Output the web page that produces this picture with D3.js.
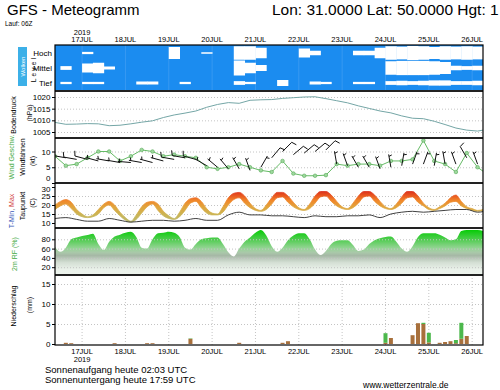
<!DOCTYPE html>
<html>
<head>
<meta charset="utf-8">
<script src="https://cdn.jsdelivr.net/npm/d3@7/dist/d3.min.js"></script>
<style>
  body { margin: 0; background: #fff; }
  svg { display: block; font-family: "Liberation Sans", Arial, sans-serif; }
</style>
</head>
<body>
<svg id="chart" width="500" height="390"></svg>
<script>
// GFS run 06Z 16.07.2019, first step +3h, last step +240h
var run_start = Date.UTC(2019, 6, 16, 9);
var run_end   = Date.UTC(2019, 6, 26, 6);

var day_labels = ['17JUL', '18JUL', '19JUL', '20JUL', '21JUL', '22JUL', '23JUL', '24JUL', '25JUL', '26JUL'];

// 6-hourly series (16JUL 09Z .. 26JUL 09Z)
var cloud_high = [0, 0, 0, 15, 0, 0, 0, 0, 0, 0, 0, 80, 0, 0, 10, 0, 0, 90, 90, 70, 0, 0, 0, 60, 30, 0, 0, 0, 30, 30, 70, 90, 85, 95, 90, 80, 90, 85, 90, 85, 80];
var cloud_mid  = [0, 25, 0, 60, 70, 20, 0, 0, 0, 0, 0, 0, 0, 0, 0, 0, 0, 100, 70, 40, 0, 0, 0, 0, 0, 0, 0, 0, 0, 0, 0, 90, 95, 95, 95, 90, 80, 30, 25, 30, 30];
var cloud_low  = [0, 15, 0, 15, 15, 0, 0, 0, 20, 20, 0, 0, 15, 0, 0, 0, 0, 25, 15, 0, 0, 40, 0, 0, 20, 15, 0, 0, 15, 15, 0, 25, 30, 25, 30, 35, 35, 25, 25, 30, 30];

var pressure = [1009.1, 1008.3, 1008.4, 1008.6, 1008.5, 1007.7, 1007.9, 1008.5, 1009.2, 1009.8,
                1011.2, 1012.3, 1013.1, 1014.0, 1015.6, 1016.8, 1017.6, 1017.3, 1018.6, 1018.8,
                1018.9, 1019.4, 1019.7, 1020.0, 1020.1, 1019.3, 1018.4, 1017.5, 1016.2, 1015.1,
                1014.0, 1013.2, 1011.9, 1010.9, 1010.7, 1009.6, 1008.2, 1006.7, 1005.8, 1005.4,
                1006.2];

var wind_speed = [8.5, 5.5, 6, 8, 10, 10, 7, 8.5, 10.5, 10,
                  8.5, 9, 8.5, 8, 5, 4.5, 5, 6, 5, 4,
                  3.5, 7, 3, 2.3, 2.3, 2.5, 6, 5.5, 6, 6,
                  5.5, 7, 7, 7.5, 13.5, 7, 6, 3.5, 9.5, 5,
                  2.5];

var barb_speed = [9, 8, 7.5, 7.5, 7, 7, 6.5, 6.5, 6.5, 6.5,
                  7, 7.5, 8, 7.5, 5.5, 5, 4.5, 4.5, 4, 5,
                  8, 10, 9, 9.5, 10, 10.5, 6, 5.5, 5, 5,
                  4.5, 5, 5.5, 6, 6, 5.5, 6, 6, 8, 6,
                  5];
var barb_dir   = [275, 280, 280, 285, 285, 280, 280, 275, 280, 285,
                  285, 280, 280, 285, 300, 310, 320, 330, 340, 30,
                  40, 45, 50, 50, 50, 45, 350, 340, 330, 330,
                  340, 350, 10, 20, 20, 10, 350, 340, 330, 340,
                  350];

var dew_point = [12.5, 13, 12, 11, 11, 12.5, 11.5, 10.5, 11, 11.5,
                 11.5, 11, 11.5, 12.5, 11.5, 11.5, 14.5, 16, 14.5, 14.5,
                 14, 14, 13.5, 13, 14, 13.5, 13.5, 14, 14, 14.5,
                 13, 15, 16, 16.5, 16, 16.5, 17, 17.5, 17.5, 16,
                 17];

// 3-hourly series (16JUL 09Z .. 26JUL 09Z)
var t_max = [20, 22, 23, 21.5, 17.5, 15, 13.5, 14.5, 17.5, 20.5, 22, 20, 16, 13, 11, 14.5, 19, 21.5, 22, 20.5,
             16.5, 14, 12.5, 16, 21, 23.5, 24, 22, 18, 15.5, 15, 19, 24, 26.5, 27, 25, 21, 18, 17, 20,
             24, 27, 27, 25, 21.5, 18.5, 17.5, 20.5, 25, 27.5, 27.5, 25.5, 22, 19, 18, 21, 25, 27.5, 27.5, 25.5,
             22, 19, 18, 20.5, 24.5, 27.5, 27.5, 25, 21, 18.5, 17.5, 19, 21, 24, 25.5, 22, 19, 18, 17, 17.5,
             19];
var t_min = [17.5, 19.5, 20.5, 18, 15, 13.5, 13, 13.5, 15, 18.5, 20, 17, 14, 11.5, 10.5, 12, 15.5, 19, 20.5, 17,
             14, 12.5, 12, 13.5, 17, 21, 22, 18.5, 15.5, 14.5, 14.5, 16, 20, 23, 24, 21, 18.5, 17, 16.5, 17.5,
             20.5, 24, 24.5, 21.5, 19, 17.5, 17, 18, 21, 24.5, 25, 22, 19.5, 18, 17.5, 18.5, 21, 24.5, 25, 22,
             19.5, 18, 17.5, 18.5, 21, 24, 24.5, 21.5, 19.5, 17.5, 17, 18, 19.5, 21.5, 22, 19.5, 18, 17, 16.5, 17,
             18];
var humidity = [64, 53, 62, 80, 84, 87, 89, 92, 70, 57, 75, 86, 90, 94, 96, 85, 62, 60, 80, 93,
                94, 96, 94, 85, 62, 58, 70, 80, 82, 84, 84, 70, 52, 43, 60, 75, 84, 94, 100, 88,
                65, 53, 62, 78, 88, 93, 93, 80, 58, 46, 55, 70, 77, 78, 78, 68, 55, 58, 70, 78,
                82, 85, 86, 75, 60, 53, 65, 85, 93, 93, 93, 90, 84, 78, 80, 98, 100, 100, 100, 98,
                95];

// 3h precipitation sums, hours after run start
var rain_hour  = [6, 9, 33, 51, 54, 75, 102, 126, 129, 183, 186, 198, 201, 204, 207, 213, 216, 219, 222, 225, 228];
var rain_large = [0.3, 0.2, 0.2, 0.2, 0.2, 1.3, 0.3, 0.3, 0.7, 0.3, 1.5, 2.2, 5.2, 5.0, 0.4, 0.3, 0.5, 0.7, 0.2, 1.3, 2.0];
var rain_conv  = [0, 0, 0, 0, 0, 0.1, 0, 0, 0, 2.4, 0, 0, 0, 0.3, 2.4, 0, 0, 0, 0.8, 4.0, 0];

var svg   = d3.select('#chart');
var defs  = svg.append('defs');
var left  = 55;
var right = 483;

var panels = {
  cloud:    [45, 91],
  pressure: [91, 138],
  wind:     [138, 183],
  temp:     [183, 228],
  hum:      [228, 275],
  rain:     [275, 345]
};

var x = d3.scaleTime()
  .domain([run_start, run_end])
  .range([left, right]);

var at = (step) => (d, i) => x(run_start + i * step * 36e5);
var day_dates = day_labels.map((d, i) => new Date(Date.UTC(2019, 6, 17 + i)));

var y_p = d3.scaleLinear().domain([1005, 1020]).range([132, 97]);
var y_w = d3.scaleLinear().domain([0, 10]).range([183, 151.5]);
var y_t = d3.scaleLinear().domain([10, 30]).range([223, 187]);
var y_h = d3.scaleLinear().domain([0, 100]).range([276.5, 230]);
var y_r = d3.scaleLinear().domain([0, 15]).range([344, 284]);

var panel_group = (name, fill) => {
  var p = panels[name];
  defs.append('clipPath')
    .attr('id', `clip-${name}`)
    .append('rect')
    .attr('x', left).attr('y', p[0])
    .attr('width', right - left).attr('height', p[1] - p[0]);
  var g = svg.append('g').attr('clip-path', `url(#clip-${name})`);
  g.append('rect')
    .attr('x', left).attr('y', p[0])
    .attr('width', right - left).attr('height', p[1] - p[0])
    .attr('fill', fill || '#fff');
  return g;
};

var grid = (g, y, ticks) => {
  g.append('g')
    .attr('transform', `translate(${left},0)`)
    .call(d3.axisLeft(y).tickValues(ticks).tickSize(-(right - left)).tickFormat(''))
    .call((a) => a.select('.domain').remove())
    .selectAll('line')
    .attr('stroke', '#c4c4c4')
    .attr('stroke-dasharray', '1,2');
};

var y_axis = (y, ticks, dy) => {
  svg.append('g')
    .attr('transform', `translate(${left},0)`)
    .call(d3.axisLeft(y).tickValues(ticks).tickSize(3).tickPadding(1.5).tickFormat(d3.format('d')))
    .call((a) => a.select('.domain').remove())
    .attr('font-family', null)
    .attr('font-size', 8)
    .selectAll('text')
    .attr('dy', dy || '0.32em');
};

// ---- clouds
var g_cloud = panel_group('cloud', '#1b8cf0');
var cloud_y = d3.scalePoint().domain(['Hoch', 'Mittel', 'Tief']).range([53, 83]);
var cell = x(run_start + 6 * 36e5) - x(run_start);

g_cloud.selectAll('line.day')
  .data(day_dates)
  .enter()
  .append('line')
  .attr('x1', (d) => x(d)).attr('x2', (d) => x(d))
  .attr('y1', panels.cloud[0]).attr('y2', panels.cloud[1])
  .attr('stroke', '#3f9df3')
  .attr('stroke-width', 0.8);

[['Hoch', cloud_high], ['Mittel', cloud_mid], ['Tief', cloud_low]].forEach((lv) => {
  g_cloud.selectAll(`rect.c-${lv[0]}`)
    .data(lv[1])
    .enter()
    .append('rect')
    .attr('x', (d, i) => at(6)(d, i) - cell / 2)
    .attr('width', (d) => d > 0 ? cell + 0.4 : 0)
    .attr('y', (d) => cloud_y(lv[0]) - d / 100 * 7.5)
    .attr('height', (d) => d / 100 * 15)
    .attr('fill', '#fff');
});

// ---- pressure
var g_p = panel_group('pressure');
grid(g_p, y_p, [1005, 1010, 1015, 1020]);
g_p.append('path')
  .datum(pressure)
  .attr('d', d3.line().x(at(6)).y((d) => y_p(d)))
  .attr('fill', 'none')
  .attr('stroke', '#74a6a6')
  .attr('stroke-width', 1);

// ---- wind
var g_w = panel_group('wind');
grid(g_w, y_w, [5, 10]);

g_w.append('path')
  .datum(wind_speed)
  .attr('d', d3.line().x(at(6)).y((d) => y_w(d)))
  .attr('fill', 'none')
  .attr('stroke', '#66bb66')
  .attr('stroke-width', 1);

g_w.selectAll('circle.ws')
  .data(wind_speed)
  .enter()
  .append('circle')
  .attr('cx', at(6))
  .attr('cy', (d) => y_w(d))
  .attr('r', 1.8)
  .attr('fill', '#9ed89e')
  .attr('stroke', '#55aa55')
  .attr('stroke-width', 0.6);

var barb_path = (cx, cy, dir, kt) => {
  var a = dir * Math.PI / 180;
  var ux = Math.sin(a), uy = -Math.cos(a);
  var px = -uy, py = ux;
  var tx = cx + ux * 13, ty = cy + uy * 13;
  var d = `M${cx},${cy}L${tx},${ty}`;
  var n5 = Math.round(kt / 5);
  var full = Math.floor(n5 / 2);
  var pos = 0;
  for (var i = 0; i < full; i++, pos += 2.5) {
    d += `M${tx - ux * pos},${ty - uy * pos}l${px * 5 + ux * 1.5},${py * 5 + uy * 1.5}`;
  }
  if (n5 % 2) {
    if (full === 0) pos = 2;
    d += `M${tx - ux * pos},${ty - uy * pos}l${px * 3 + ux * 1},${py * 3 + uy * 1}`;
  }
  return d;
};

g_w.selectAll('path.barb')
  .data(barb_speed)
  .enter()
  .append('path')
  .attr('d', (d, i) => barb_path(at(6)(d, i), y_w(d), barb_dir[i], d))
  .attr('fill', 'none')
  .attr('stroke', '#111')
  .attr('stroke-width', 1);

// ---- temperature
var g_t = panel_group('temp');
grid(g_t, y_t, [15, 20, 25]);

var t_stops = [[28, '#d92a1c'], [25.5, '#e8521f'], [22.5, '#f0862a'], [19, '#e2a43c'], [15, '#cdb452'], [11, '#bcb86a']];
var tg = defs.append('linearGradient')
  .attr('id', 'temp-grad')
  .attr('gradientUnits', 'userSpaceOnUse')
  .attr('x1', 0).attr('x2', 0)
  .attr('y1', y_t(28)).attr('y2', y_t(11));
tg.selectAll('stop')
  .data(t_stops)
  .enter()
  .append('stop')
  .attr('offset', (d) => (28 - d[0]) / 17)
  .attr('stop-color', (d) => d[1]);

g_t.append('path')
  .datum(t_max)
  .attr('d', d3.area()
    .curve(d3.curveMonotoneX)
    .x(at(3))
    .y0((d, i) => y_t(t_min[i]))
    .y1((d) => y_t(d)))
  .attr('fill', 'url(#temp-grad)')
  .attr('stroke', 'url(#temp-grad)')
  .attr('stroke-width', 0.8);

g_t.append('path')
  .datum(dew_point)
  .attr('d', d3.line().curve(d3.curveMonotoneX).x(at(6)).y((d) => y_t(d)))
  .attr('fill', 'none')
  .attr('stroke', '#2a2a2a')
  .attr('stroke-width', 0.9);

// ---- humidity
var g_h = panel_group('hum');
var h_stops = [[100, '#06cc06'], [80, '#4ecd4e'], [60, '#98d498'], [52, '#a9c9a9'], [45, '#a6b8a6'], [30, '#d4dfd4'], [15, '#eaf1ea'], [0, '#eef4ee']];
var hg = defs.append('linearGradient')
  .attr('id', 'hum-grad')
  .attr('gradientUnits', 'userSpaceOnUse')
  .attr('x1', 0).attr('x2', 0)
  .attr('y1', y_h(100)).attr('y2', y_h(0));
hg.selectAll('stop')
  .data(h_stops)
  .enter()
  .append('stop')
  .attr('offset', (d) => (100 - d[0]) / 100)
  .attr('stop-color', (d) => d[1]);

g_h.append('path')
  .datum(humidity)
  .attr('d', d3.area()
    .curve(d3.curveMonotoneX)
    .x(at(3))
    .y0(y_h(0))
    .y1((d) => y_h(d)))
  .attr('fill', 'url(#hum-grad)');
grid(g_h, y_h, [20, 40, 60, 80]);

// ---- precipitation
var g_r = panel_group('rain');
grid(g_r, y_r, [5, 10, 15]);
g_r.selectAll('line.day')
  .data(day_dates)
  .enter()
  .append('line')
  .attr('x1', (d) => x(d)).attr('x2', (d) => x(d))
  .attr('y1', panels.rain[0]).attr('y2', panels.rain[1])
  .attr('stroke', '#c4c4c4')
  .attr('stroke-dasharray', '1,2');

var rain_x = (i) => x(run_start + rain_hour[i] * 36e5);

g_r.selectAll('rect.large')
  .data(rain_large)
  .enter()
  .append('rect')
  .attr('x', (d, i) => rain_x(i) - 2)
  .attr('width', 4)
  .attr('y', (d) => y_r(d))
  .attr('height', (d) => y_r(0) - y_r(d))
  .attr('fill', '#a8703c');

g_r.selectAll('rect.conv')
  .data(rain_conv)
  .enter()
  .append('rect')
  .attr('x', (d, i) => rain_x(i) - 2)
  .attr('width', 4)
  .attr('y', (d, i) => y_r(d + rain_large[i]))
  .attr('height', (d) => y_r(0) - y_r(d))
  .attr('fill', '#4cb84c');

// ---- frame
svg.selectAll('line.sep')
  .data(Object.values(panels).slice(1).map((p) => p[0]))
  .enter()
  .append('line')
  .attr('x1', left).attr('x2', right)
  .attr('y1', (d) => d).attr('y2', (d) => d)
  .attr('stroke', '#222')
  .attr('stroke-width', 2);

svg.append('rect')
  .attr('x', left).attr('y', panels.cloud[0])
  .attr('width', right - left)
  .attr('height', panels.rain[1] - panels.cloud[0])
  .attr('fill', 'none')
  .attr('stroke', '#000')
  .attr('stroke-width', 1.2);

// ---- axes
y_axis(y_p, [1005, 1010, 1015, 1020]);
y_axis(y_w, [0, 5, 10], (d) => d === 0 ? '-0.3em' : '0.32em');
y_axis(y_t, [10, 15, 20, 25, 30], (d) => d === 30 ? '0.5em' : '0.32em');
y_axis(y_h, [20, 40, 60, 80]);
y_axis(y_r, [0, 5, 10, 15]);

svg.selectAll('text.lvl')
  .data(cloud_y.domain())
  .enter()
  .append('text')
  .attr('x', 52)
  .attr('y', (d) => cloud_y(d))
  .attr('dy', '0.35em')
  .attr('text-anchor', 'end')
  .attr('font-size', 8)
  .text((d) => d);

var day_axis = (ty, yy) => {
  svg.selectAll(null)
    .data(day_labels)
    .enter()
    .append('text')
    .attr('x', (d, i) => x(day_dates[i]))
    .attr('y', ty)
    .attr('text-anchor', 'middle')
    .attr('font-size', 7.5)
    .text((d) => d);
  svg.append('text')
    .attr('x', x(day_dates[0]))
    .attr('y', yy)
    .attr('text-anchor', 'middle')
    .attr('font-size', 7.5)
    .text('2019');
};
day_axis(42, 34.5);
day_axis(354, 362);

var vlabel = (cx, cy, parts, size) => {
  var t = svg.append('text')
    .attr('transform', `translate(${cx},${cy}) rotate(-90)`)
    .attr('text-anchor', 'middle')
    .attr('dy', '0.35em')
    .attr('font-size', size || 7);
  parts.forEach((p) => t.append('tspan').attr('fill', p[1]).text(p[0]));
  return t;
};

svg.append('rect')
  .attr('x', 18).attr('y', 47)
  .attr('width', 9).attr('height', 39)
  .attr('fill', '#3cb0e8');
vlabel(22.5, 66.5, [['Wolken', '#fff']], 6);
vlabel(33.5, 69, [['Level', '#000']], 6.5).attr('letter-spacing', 2.2);

vlabel(13.5, 115, [['Bodendruck', '#000']]);
vlabel(29.5, 113, [['(hPa)', '#000']]);
vlabel(11.5, 157, [['Wind Geschw.', '#44aa44']]);
vlabel(22.5, 157, [['Windfahnen', '#000']]);
vlabel(32.5, 161, [['(kt)', '#000']]);
vlabel(11.5, 211, [['T-Min', '#3a58b8'], [', ', '#555'], ['Max', '#d04040']]);
vlabel(22.5, 206, [['Taupunkt', '#000']]);
vlabel(32.5, 203, [['(C)', '#000']]);
vlabel(15, 254, [['2m RF (%)', '#44aa44']]);
vlabel(13.5, 306, [['Niederschlag', '#000']]);
vlabel(29.5, 305, [['(mm)', '#000']]);

// ---- header and footer
svg.append('text')
  .attr('x', 7).attr('y', 15)
  .attr('font-size', 15)
  .text('GFS - Meteogramm');

svg.append('text')
  .attr('x', 272).attr('y', 15)
  .attr('font-size', 15.5)
  .text('Lon: 31.0000 Lat: 50.0000 Hgt: 1');

svg.append('text')
  .attr('x', 5).attr('y', 26)
  .attr('font-size', 6.5)
  .text('Lauf: 06Z');

svg.append('text')
  .attr('x', 45).attr('y', 373)
  .attr('font-size', 9.5)
  .text('Sonnenaufgang heute 02:03 UTC');

svg.append('text')
  .attr('x', 45).attr('y', 383)
  .attr('font-size', 9.5)
  .text('Sonnenuntergang heute 17:59 UTC');

svg.append('text')
  .attr('x', 363).attr('y', 388)
  .attr('font-size', 8.5)
  .text('www.wetterzentrale.de');
</script>
</body>
</html>
